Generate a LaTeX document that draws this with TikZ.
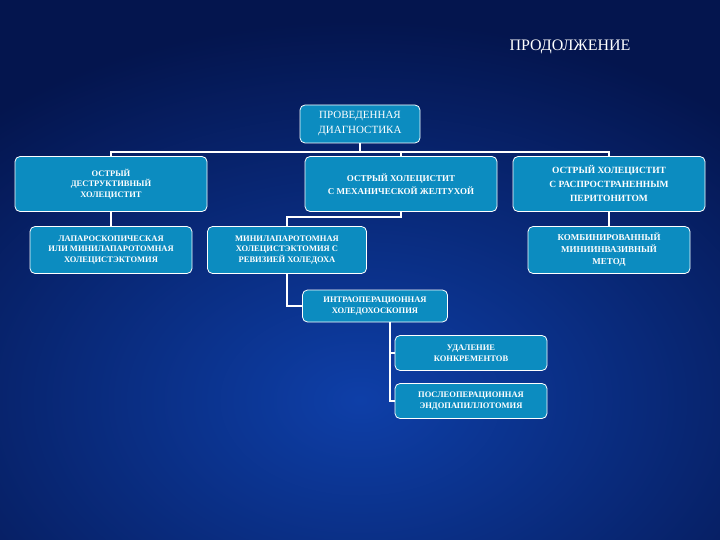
\documentclass[tikz,border=0pt]{standalone}
\usepackage{fontspec}
\setmainfont{Liberation Serif}
\begin{document}
\begin{tikzpicture}[x=1pt,y=-1pt,
 bx/.style={draw=white,line width=0.8pt,rounded corners=5pt,fill=boxc,text=white,align=center,inner sep=1pt,font=\fontsize{8.5}{10.5}\selectfont\bfseries},
 ln/.style={draw=white,line width=1.3pt}]
\definecolor{boxc}{HTML}{0C8CC0}
\definecolor{bgd}{HTML}{04154E}
\definecolor{bgm}{HTML}{0E3FA8}
\useasboundingbox (0,0) rectangle (720,540);
\fill[bgd] (0,0) rectangle (720,540);
\shade[inner color=bgm,outer color=bgd] (-200,20) rectangle (920,780);
\node[text=white,font=\fontsize{16}{18}\selectfont] (title) at (570,47) {ПРОДОЛЖЕНИЕ};
\node[bx,minimum width=120,minimum height=38,font=\fontsize{11}{15}\selectfont] (top) at (360,124) {ПРОВЕДЕННАЯ\\ДИАГНОСТИКА};
\node[bx,minimum width=192,minimum height=55] (a1) at (111,184) {ОСТРЫЙ\\ДЕСТРУКТИВНЫЙ\\ХОЛЕЦИСТИТ};
\node[bx,minimum width=192,minimum height=55,font=\fontsize{9}{13}\selectfont\bfseries] (a2) at (401,184) {ОСТРЫЙ ХОЛЕЦИСТИТ\\С МЕХАНИЧЕСКОЙ ЖЕЛТУХОЙ};
\node[bx,minimum width=192,minimum height=55,font=\fontsize{9.5}{14}\selectfont\bfseries] (a3) at (609,184) {ОСТРЫЙ ХОЛЕЦИСТИТ\\С РАСПРОСТРАНЕННЫМ\\ПЕРИТОНИТОМ};
\node[bx,minimum width=162,minimum height=47] (b1) at (111,250) {ЛАПАРОСКОПИЧЕСКАЯ\\ИЛИ МИНИЛАПАРОТОМНАЯ\\ХОЛЕЦИСТЭКТОМИЯ};
\node[bx,minimum width=159,minimum height=47] (b2) at (287,250) {МИНИЛАПАРОТОМНАЯ\\ХОЛЕЦИСТЭКТОМИЯ С\\РЕВИЗИЕЙ ХОЛЕДОХА};
\node[bx,minimum width=162,minimum height=47,font=\fontsize{9}{12}\selectfont\bfseries] (b3) at (609,250) {КОМБИНИРОВАННЫЙ\\МИНИИНВАЗИВНЫЙ\\МЕТОД};
\node[bx,minimum width=145,minimum height=32] (c) at (375,306) {ИНТРАОПЕРАЦИОННАЯ\\ХОЛЕДОХОСКОПИЯ};
\node[bx,minimum width=152,minimum height=35] (d1) at (471,353) {УДАЛЕНИЕ\\КОНКРЕМЕНТОВ};
\node[bx,minimum width=152,minimum height=35] (d2) at (471,401) {ПОСЛЕОПЕРАЦИОННАЯ\\ЭНДОПАПИЛЛОТОМИЯ};
\coordinate (h0) at (360,152);
\draw[ln] (top.south) -- (h0);
\draw[ln] (a1.north) |- (h0) -| (a3.north);
\draw[ln] (a2.north) -- (a2.north |- h0);
\draw[ln] (a1.south) -- (b1.north);
\draw[ln] (a3.south) -- (b3.north);
\draw[ln] (a2.south) -- ++(0,5) -| (b2.north);
\draw[ln] (b2.south) |- (c.west);
\draw[ln] (c.south -| 390,0) |- (d1.west);
\draw[ln] (c.south -| 390,0) |- (d2.west);
\end{tikzpicture}
\end{document}
